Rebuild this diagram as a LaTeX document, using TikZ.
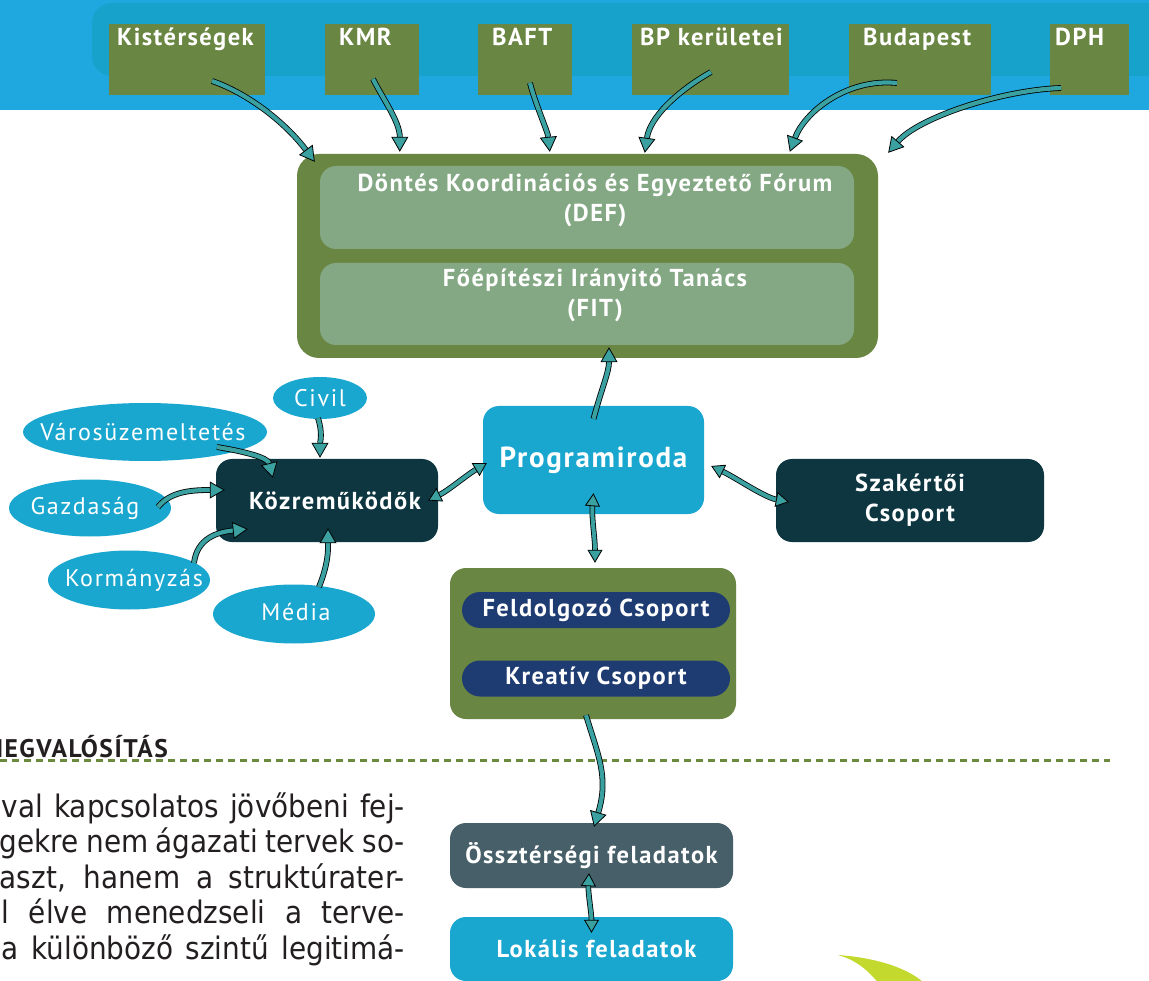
\documentclass[tikz,border=0pt]{standalone}
\usepackage{fontspec}
\setmainfont{PT Sans}
\newfontfamily\dinfont[LetterSpace=6]{PT Sans}
\newfontfamily\dinlight[LetterSpace=7]{PT Sans}
\newfontfamily\bodyfont[FakeStretch=0.9]{DejaVu Sans}
\usetikzlibrary{shapes.geometric,arrows.meta}
\definecolor{bandblue}{HTML}{1FA7DF}
\definecolor{bandin}{HTML}{17A2CB}
\definecolor{gbox}{HTML}{6A8643}
\definecolor{sage}{HTML}{83A883}
\definecolor{progblue}{HTML}{19A6CF}
\definecolor{darkbox}{HTML}{0D3640}
\definecolor{pillblue}{HTML}{1E3C72}
\definecolor{osszgray}{HTML}{475F68}
\definecolor{arrteal}{HTML}{3AA0A0}
\definecolor{dashgreen}{HTML}{6B8A3E}
\definecolor{blade}{HTML}{C4D92E}
\definecolor{bodygray}{HTML}{231F20}
\newcommand\dgfont{\dinfont\bfseries\fontsize{24.5}{30}\selectfont}
\newcommand\dgbig{\dinfont\bfseries\fontsize{29}{34}\selectfont}
\newcommand\dglight{\dinlight\fontsize{24}{28}\selectfont}
\newcommand\elltxt[2][0pt]{\makebox[0pt]{\hspace*{#1}#2}}

\begin{document}
\begin{tikzpicture}[x=1pt,y=-1pt,
  topbox/.style={fill=gbox,minimum width=#1,minimum height=71pt,inner sep=0pt},
  toptxt/.style={anchor=base west,inner sep=0pt,text=white,font=\dgfont},
  rbox/.style={fill=#1,rounded corners=16pt,inner sep=0pt,text=white,font=\dgfont},
  midtxt/.style={align=center,inner sep=0pt,text=white,font=\dgfont},
  pill/.style={fill=pillblue,rounded corners=18pt,minimum width=268pt,minimum height=36pt,inner sep=0pt,text=white,font=\dgfont},
  ell/.style={ellipse,fill=progblue,inner sep=0pt,text=white,font=\dglight},
  bodyln/.style={anchor=base east,inner sep=0pt,text=bodygray,font=\bodyfont\fontsize{31}{36}\selectfont},
  fat/.style={draw=black,line width=0.8pt,double=arrteal,double distance=4.2pt,
    -{Triangle[length=15pt,width=17pt,fill=arrteal,line width=0.8pt]}},
  fatt/.style={draw=black,line width=0.8pt,double=arrteal,double distance=4pt,
    {Triangle[length=13pt,width=15pt,fill=arrteal,line width=0.8pt]}-{Triangle[length=13pt,width=15pt,fill=arrteal,line width=0.8pt]}}]
\clip (0,0) rectangle (1149,981);
\fill[white] (0,0) rectangle (1149,981);
\fill[bandblue] (0,0) rectangle (1149,110);
\fill[bandin,rounded corners=20pt] (92,3) rectangle (1180,76);

\node[topbox=156pt] (kist) at (187,59.5) {};
\node[toptxt] (kistt) at (117,46) {Kistérségek};
\node[topbox=94pt] (kmr) at (372,59.5) {};
\node[toptxt] (kmrt) at (339,46) {KMR};
\node[topbox=94pt] (baft) at (525,59.5) {};
\node[toptxt] (baftt) at (492,46) {BAFT};
\node[topbox=157pt] (bpker) at (710,59.5) {};
\node[toptxt] (bpkert) at (640,46) {BP kerületei};
\node[topbox=142pt] (bp) at (920,59.5) {};
\node[toptxt] (bpt) at (863,46) {Budapest};
\node[topbox=79pt] (dph) at (1089.5,59.5) {};
\node[toptxt] (dpht) at (1055,46) {DPH};

\node[rbox=gbox,minimum width=581pt,minimum height=204pt,rounded corners=22pt] (forum) at (587.5,256) {};
\node[rbox=sage,minimum width=534pt,minimum height=83pt] (def) at (587,207.5) {};
\node[rbox=sage,minimum width=534pt,minimum height=82pt] (fit) at (587,304) {};
\node[midtxt] (deft) at (595,200) {Döntés Koordinációs és Egyeztető Fórum\\(DEF)};
\node[midtxt] (fitt) at (595,295.5) {Főépítészi Irányitó Tanács\\(FIT)};

\node[rbox=progblue,minimum width=221pt,minimum height=108pt,font=\dgbig] (prog) at (593.5,460) {Programiroda};
\node[rbox=darkbox,minimum width=268pt,minimum height=83pt,align=center] (szak) at (910,500.5) {Szakértői\\Csoport};
\node[rbox=darkbox,minimum width=222pt,minimum height=83pt] (koz) at (327,500.5) {\hspace*{16pt}Közreműködők};

\node[ell,minimum width=94pt,minimum height=42pt] (civil) at (320,398) {\elltxt{Civil}};
\node[ell,minimum width=244pt,minimum height=58pt] (varos) at (145,432) {\elltxt[-4pt]{Városüzemeltetés}};
\node[ell,minimum width=162pt,minimum height=57pt] (gazd) at (90,508) {\elltxt[-10pt]{Gazdaság}};
\node[ell,minimum width=162pt,minimum height=59pt] (korm) at (129,580) {\elltxt[10pt]{Kormányzás}};
\node[ell,minimum width=162pt,minimum height=59pt] (media) at (294,614) {\raisebox{5pt}{\elltxt[4pt]{Média}}};

\node[rbox=gbox,minimum width=286pt,minimum height=151pt] (grp) at (593,643.5) {};
\node[pill] (feld) at (596,610) {Feldolgozó Csoport};
\node[pill] (krea) at (596,678.5) {Kreatív Csoport};

\draw[dashgreen,line width=3pt,dash pattern=on 7pt off 5pt] (0,760) -- (1110,760);
\node[anchor=base east,inner sep=0pt,text=bodygray,font=\dinfont\bfseries\fontsize{25.5}{30}\selectfont] (megv) at (168,757) {MEGVALÓSÍTÁS};

\node[rbox=osszgray,minimum width=283pt,minimum height=65pt] (ossz) at (591.5,855.5) {Össztérségi feladatok};
\node[rbox=progblue,minimum width=283pt,minimum height=64pt] (lok) at (591.5,949) {\hspace*{10pt}Lokális feladatok};

\node[bodyln] (l1) at (405,817) {\makebox[403pt][s]{val kapcsolatos jövőbeni fej-}};
\node[bodyln] (l2) at (405,852.5) {\makebox[405pt][s]{gekre nem ágazati tervek so-}};
\node[bodyln] (l3) at (405,888) {\makebox[405pt][s]{aszt, hanem a struktúrater-}};
\node[bodyln] (l4) at (405,923.5) {\makebox[403pt][s]{l élve menedzseli a terve-}};
\node[bodyln] (l5) at (405,959) {\makebox[403pt][s]{a különböző szintű legitimá-}};

\fill[blade] (838,955) .. controls (880,958) and (912,970) .. (926,985) -- (880,985) .. controls (868,970) and (856,960) .. (838,955) -- cycle;

\draw[fat] ([shift={(25,21.5)}]kist.center) .. controls +(35,12) and +(-30,-40) .. ([shift={(18,8)}]forum.north west);
\draw[fat] ([shift={(1,19.5)}]kmr.center) .. controls +(10,20) and +(0,-30) .. ([shift={(103,-2)}]forum.north west);
\draw[fat] ([shift={(5,23.5)}]baft.center) .. controls +(5,20) and +(-2,-20) .. ([shift={(253,-2)}]forum.north west);
\draw[fat] ([shift={(1,12.5)}]bpker.center) .. controls +(-35,20) and +(5,-35) .. ([shift={(348,-1)}]forum.north west);
\draw[fat] ([shift={(-23,23.5)}]bp.center) .. controls +(-50,-5) and +(15,-40) .. ([shift={(493,-2)}]forum.north west);
\draw[fat] ([shift={(-28.5,28.5)}]dph.center) .. controls +(-60,2) and +(30,-35) .. ([shift={(10,-1)}]forum.north east);

\draw[fat] ([shift={(0,13)}]prog.north) .. controls +(8,-30) and +(0,25) .. ([shift={(21.5,-11)}]forum.south);
\draw[fatt] ([shift={(-10,0)}]koz.east) .. controls +(20,-10) and +(-20,12) .. ([shift={(4,3)}]prog.west);
\draw[fatt] ([shift={(7,6)}]prog.east) .. controls +(25,12) and +(-25,-5) .. ([shift={(13,1.5)}]szak.west);
\draw[fatt] ([shift={(0,-21)}]prog.south) .. controls +(-2,25) and +(0,-25) .. ([shift={(2,-5)}]grp.north);
\draw[fat] ([shift={(-7,-4)}]grp.south) .. controls +(12,40) and +(15,-50) .. ([shift={(2.5,4)}]ossz.north);
\draw[fatt] ([shift={(-2.5,-15)}]ossz.south) .. controls +(-1,20) and +(0,-20) .. ([shift={(0,16)}]lok.north);

\draw[fat] ([shift={(-2,-1)}]civil.south) .. controls +(5,15) and +(0,-15) .. ([shift={(-7,-1)}]koz.north);
\draw[fat] ([shift={(72,15)}]varos.center) .. controls +(30,5) and +(-5,-20) .. ([shift={(57,19)}]koz.north west);
\draw[fat] ([shift={(68,-1)}]gazd.center) .. controls +(12,-15) and +(-35,0) .. ([shift={(9,-10.5)}]koz.west);
\draw[fat] ([shift={(65,-17)}]korm.center) .. controls +(3,-25) and +(-30,3) .. ([shift={(32,28.5)}]koz.west);
\draw[fat] ([shift={(25,-27)}]media.center) .. controls +(10,-25) and +(0,20) .. ([shift={(1,-14)}]koz.south);
\end{tikzpicture}
\end{document}
